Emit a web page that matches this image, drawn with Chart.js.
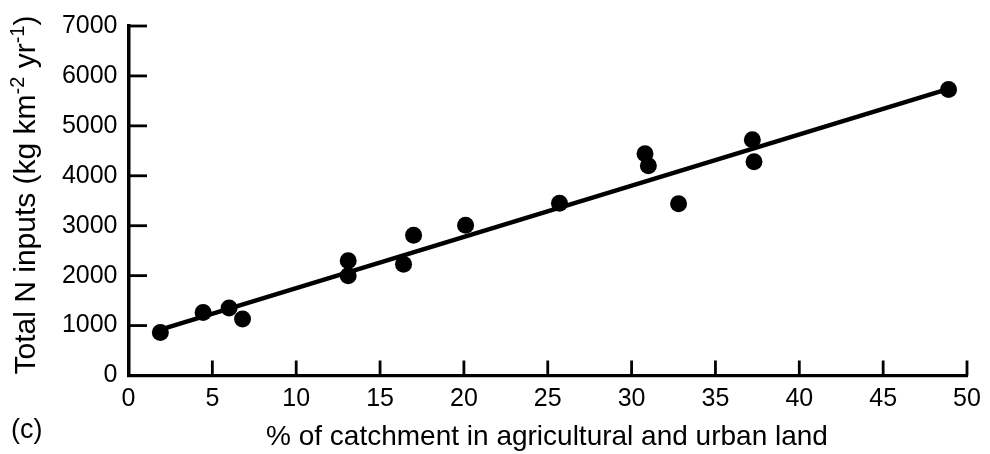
<!DOCTYPE html>
<html>
<head>
<meta charset="utf-8">
<script src="https://cdn.jsdelivr.net/npm/chart.js@4"></script>
<style>
  html, body { margin: 0; padding: 0; background: #fff; }
  #wrap { width: 990px; height: 454px; }
</style>
</head>
<body>
<div id="wrap"><canvas id="c" width="990" height="454"></canvas></div>
<script>
// Catchment land use vs. total nitrogen inputs
const landPct  = [1.9, 4.45, 6.0, 6.8, 13.1, 13.1, 16.4, 17.0, 20.1, 25.7, 30.8, 31.0, 32.8, 37.2, 37.3, 48.9];
const nInputs  = [860, 1260, 1350, 1130, 2300, 2000, 2230, 2810, 3010, 3450, 4440, 4200, 3440, 4720, 4280, 5730];

// Regression line end points
const fitX = [2.0, 48.9];
const fitY = [930, 5740];

// Axis ticks
const xTicks = [0, 5, 10, 15, 20, 25, 30, 35, 40, 45, 50];
const yTicks = [0, 1000, 2000, 3000, 4000, 5000, 6000, 7000];

const xTitle = '% of catchment in agricultural and urban land';
const panelTag = '(c)';
const yTitleParts = [
  { t: 'Total N inputs (kg km', sup: false },
  { t: '-2', sup: true },
  { t: ' yr', sup: false },
  { t: '-1', sup: true },
  { t: ')', sup: false }
];

const FONT = '"Liberation Sans", Arial, Helvetica, sans-serif';

const points = landPct.map((x, i) => ({ x, y: nInputs[i] }));
const fitLine = fitX.map((x, i) => ({ x, y: fitY[i] }));

// inward tick marks plus the axis titles and panel tag
const decorations = {
  id: 'decorations',
  afterDraw(chart) {
    const ctx = chart.ctx;
    const xs = chart.scales.x, ys = chart.scales.y;
    const area = chart.chartArea;
    ctx.save();
    ctx.strokeStyle = '#000';
    ctx.lineCap = 'butt';
    ctx.lineWidth = 2.8;
    yTicks.forEach(v => {
      const py = ys.getPixelForValue(v);
      ctx.beginPath();
      ctx.moveTo(area.left, py);
      ctx.lineTo(area.left + 18.5, py);
      ctx.stroke();
    });
    xTicks.forEach(v => {
      const px = xs.getPixelForValue(v);
      ctx.beginPath();
      ctx.moveTo(px, area.bottom);
      ctx.lineTo(px, area.bottom - 15);
      ctx.stroke();
    });

    ctx.fillStyle = '#000';
    ctx.textBaseline = 'alphabetic';

    // x title
    ctx.font = '28px ' + FONT;
    ctx.textAlign = 'center';
    ctx.fillText(xTitle, 547, 445);

    // panel tag
    ctx.textAlign = 'left';
    ctx.font = '27px ' + FONT;
    ctx.fillText(panelTag, 11, 438);

    // rotated y title with superscripts
    const baseFont = '30px ' + FONT, supFont = '20px ' + FONT;
    let total = 0;
    yTitleParts.forEach(p => {
      ctx.font = p.sup ? supFont : baseFont;
      total += ctx.measureText(p.t).width;
    });
    ctx.translate(35, 195);
    ctx.rotate(-Math.PI / 2);
    let cx = -total / 2;
    yTitleParts.forEach(p => {
      ctx.font = p.sup ? supFont : baseFont;
      ctx.fillText(p.t, cx, p.sup ? -11 : 0);
      cx += ctx.measureText(p.t).width;
    });
    ctx.restore();
  }
};

new Chart(document.getElementById('c'), {
  type: 'scatter',
  data: {
    datasets: [
      {
        type: 'line',
        data: fitLine,
        borderColor: '#000',
        borderWidth: 4.5,
        pointRadius: 0,
        fill: false,
        tension: 0,
        order: 2
      },
      {
        data: points,
        backgroundColor: '#000',
        borderColor: '#000',
        borderWidth: 0,
        pointRadius: 8.5,
        pointHoverRadius: 8.5,
        order: 1
      }
    ]
  },
  options: {
    responsive: false,
    animation: false,
    devicePixelRatio: 1,
    layout: { padding: { top: 25.5, right: 23, left: 0, bottom: 0 } },
    plugins: {
      legend: { display: false },
      tooltip: { enabled: false },
      title: { display: false }
    },
    scales: {
      x: {
        type: 'linear',
        min: 0, max: 50,
        afterBuildTicks: s => { s.ticks = xTicks.map(v => ({ value: v })); },
        afterFit: s => { s.height = 78.5; },
        grid: { display: true, drawOnChartArea: false, drawTicks: false },
        border: { display: true, color: '#000', width: 3.2 },
        ticks: {
          color: '#000',
          font: { family: FONT, size: 25 },
          padding: 9,
          maxRotation: 0,
          autoSkip: false,
          callback: v => String(v)
        }
      },
      y: {
        type: 'linear',
        min: 0, max: 7000,
        afterBuildTicks: s => { s.ticks = yTicks.map(v => ({ value: v })); },
        afterFit: s => { s.width = 128.5; },
        grid: { display: true, drawOnChartArea: false, drawTicks: false },
        border: { display: true, color: '#000', width: 3.5 },
        ticks: {
          color: '#000',
          font: { family: FONT, size: 25 },
          padding: 11,
          autoSkip: false,
          callback: v => String(v)
        }
      }
    }
  },
  plugins: [decorations]
});
</script>
</body>
</html>
